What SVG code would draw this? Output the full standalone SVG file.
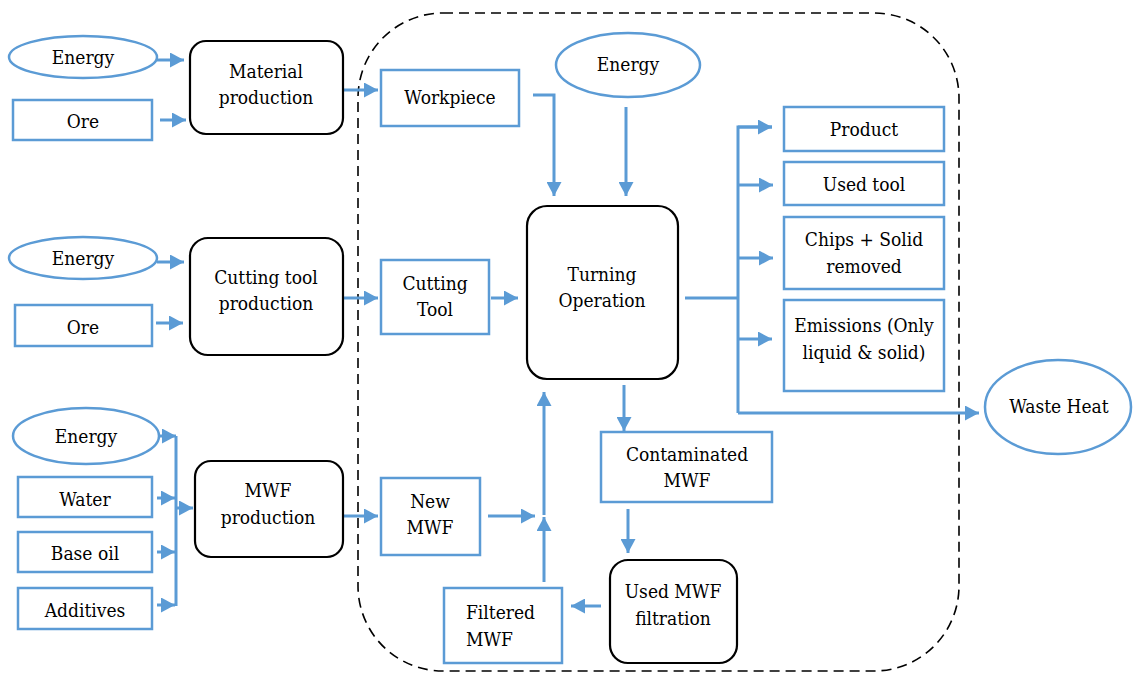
<svg xmlns="http://www.w3.org/2000/svg" width="1133" height="674" viewBox="0 0 1133 674">
<defs>
<marker id="ah" markerUnits="userSpaceOnUse" markerWidth="15" markerHeight="15" refX="14" refY="7.5" orient="auto">
<path d="M0,0 L14,7.5 L0,15 z" fill="#5B9BD5"/>
</marker>
<style>
text{font-family:'DejaVu Serif',serif;font-stretch:condensed;font-size:19px;fill:#000;text-anchor:middle;dominant-baseline:central}
.b{fill:#fff;stroke:#5B9BD5;stroke-width:2.5}
.k{fill:#fff;stroke:#000;stroke-width:2.2}
.c{fill:none;stroke:#5B9BD5;stroke-width:3}
.a{fill:none;stroke:#5B9BD5;stroke-width:3;marker-end:url(#ah)}
</style>
</defs>
<rect width="1133" height="674" fill="#fff"/>
<rect id="boundary" x="358" y="13" width="601" height="658" rx="85" ry="85" fill="none" stroke="#000" stroke-width="1.6" stroke-dasharray="10,6"/>

<g id="connectors">
<line class="a" x1="157" y1="60" x2="184" y2="60"/>
<line class="a" x1="160" y1="120" x2="186" y2="120"/>
<line class="a" x1="344" y1="90" x2="378" y2="90"/>
<polyline class="a" points="533,95 554,95 554,196"/>
<line class="a" x1="626" y1="107" x2="626" y2="196"/>
<line class="a" x1="157" y1="262" x2="184" y2="262"/>
<line class="a" x1="156" y1="323" x2="183" y2="323"/>
<line class="a" x1="344" y1="298" x2="378" y2="298"/>
<line class="a" x1="491" y1="298" x2="518" y2="298"/>
<line class="c" x1="685" y1="298" x2="738" y2="298"/>
<polyline class="c" points="772,127 738,127 738,413"/>
<line class="a" x1="738" y1="127" x2="772" y2="127"/>
<line class="a" x1="738" y1="185" x2="773" y2="185"/>
<line class="a" x1="738" y1="258" x2="773" y2="258"/>
<line class="a" x1="738" y1="339" x2="772" y2="339"/>
<line class="a" x1="738" y1="413" x2="979" y2="413"/>
<line class="c" x1="176" y1="436" x2="176" y2="606"/>
<line class="a" x1="158" y1="436" x2="176" y2="436"/>
<line class="a" x1="157" y1="498" x2="175" y2="498"/>
<line class="a" x1="157" y1="552" x2="175" y2="552"/>
<line class="a" x1="157" y1="605" x2="175" y2="605"/>
<line class="a" x1="176" y1="508" x2="193" y2="508"/>
<line class="a" x1="344" y1="516" x2="378" y2="516"/>
<line class="a" x1="488" y1="516" x2="535" y2="516"/>
<line class="a" x1="544" y1="582" x2="544" y2="517"/>
<line class="a" x1="544" y1="515" x2="544" y2="392"/>
<line class="a" x1="624" y1="385" x2="624" y2="431"/>
<line class="a" x1="628" y1="509" x2="628" y2="553"/>
<line class="a" x1="601" y1="606" x2="571" y2="606"/>
</g>

<g id="energy1"><ellipse class="b" cx="83" cy="57" rx="74" ry="21"/><text x="83" y="57">Energy</text></g>
<g id="ore1"><rect class="b" x="13" y="100" width="139" height="40"/><text x="83" y="121">Ore</text></g>
<g id="material-production"><rect class="k" x="190" y="41" width="153" height="93" rx="16"/><text x="266" y="71">Material</text><text x="266" y="97">production</text></g>
<g id="workpiece"><rect class="b" x="381" y="70" width="138" height="56"/><text x="450" y="97">Workpiece</text></g>
<g id="energy-turning"><ellipse class="b" cx="628" cy="65" rx="72" ry="32"/><text x="628" y="64">Energy</text></g>
<g id="turning"><rect class="k" x="527" y="206" width="151" height="173" rx="20"/><text x="602" y="274">Turning</text><text x="602" y="300">Operation</text></g>

<g id="energy2"><ellipse class="b" cx="83" cy="258" rx="74" ry="21"/><text x="83" y="258">Energy</text></g>
<g id="ore2"><rect class="b" x="15" y="305" width="137" height="41"/><text x="83" y="327">Ore</text></g>
<g id="cutting-tool-production"><rect class="k" x="190" y="238" width="153" height="117" rx="18"/><text x="266" y="277">Cutting tool</text><text x="266" y="303">production</text></g>
<g id="cutting-tool"><rect class="b" x="381" y="260" width="108" height="74"/><text x="435" y="283">Cutting</text><text x="435" y="309">Tool</text></g>

<g id="product"><rect class="b" x="784" y="107" width="160" height="44"/><text x="864" y="129">Product</text></g>
<g id="used-tool"><rect class="b" x="784" y="162" width="160" height="43"/><text x="864" y="184">Used tool</text></g>
<g id="chips"><rect class="b" x="784" y="217" width="160" height="72"/><text x="864" y="239">Chips + Solid</text><text x="864" y="266">removed</text></g>
<g id="emissions"><rect class="b" x="784" y="300" width="160" height="91"/><text x="864" y="325">Emissions (Only</text><text x="864" y="352">liquid &amp; solid)</text></g>
<g id="waste-heat"><ellipse class="b" cx="1058" cy="407" rx="73" ry="47"/><text x="1059" y="406">Waste Heat</text></g>

<g id="energy3"><ellipse class="b" cx="86" cy="436" rx="73" ry="28"/><text x="86" y="436">Energy</text></g>
<g id="water"><rect class="b" x="18" y="477" width="134" height="40"/><text x="85" y="499">Water</text></g>
<g id="base-oil"><rect class="b" x="18" y="532" width="134" height="40"/><text x="85" y="553">Base oil</text></g>
<g id="additives"><rect class="b" x="18" y="588" width="134" height="41"/><text x="85" y="610">Additives</text></g>
<g id="mwf-production"><rect class="k" x="195" y="461" width="148" height="96" rx="16"/><text x="268" y="490">MWF</text><text x="268" y="517">production</text></g>
<g id="new-mwf"><rect class="b" x="381" y="478" width="99" height="77"/><text x="430" y="501">New</text><text x="430" y="527">MWF</text></g>
<g id="contaminated-mwf"><rect class="b" x="601" y="432" width="171" height="70"/><text x="687" y="454">Contaminated</text><text x="687" y="480">MWF</text></g>
<g id="filtration"><rect class="k" x="610" y="560" width="127" height="103" rx="18"/><text x="673" y="591">Used MWF</text><text x="673" y="618">filtration</text></g>
<g id="filtered-mwf"><rect class="b" x="444" y="588" width="118" height="75"/><text x="466" y="612" style="text-anchor:start">Filtered</text><text x="466" y="639" style="text-anchor:start">MWF</text></g>
</svg>
